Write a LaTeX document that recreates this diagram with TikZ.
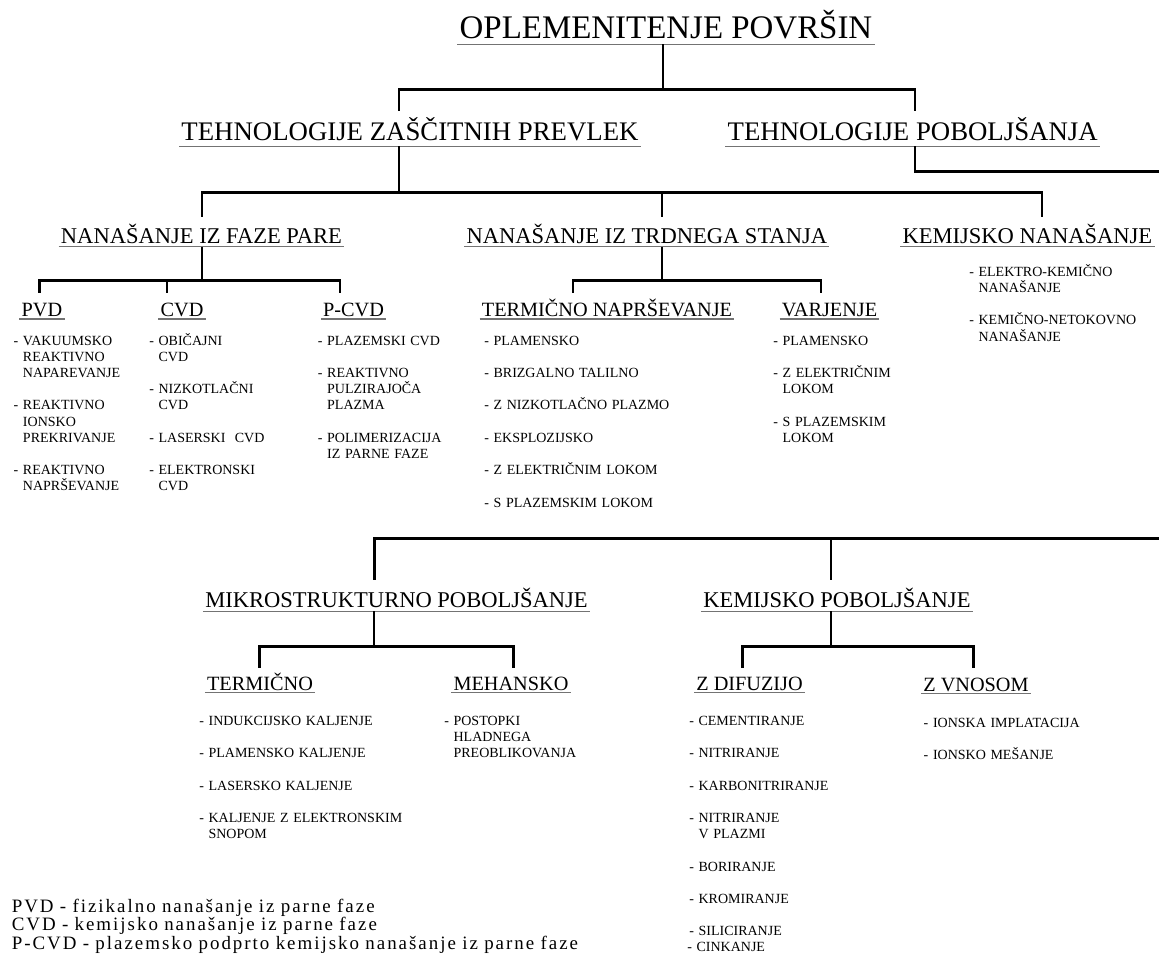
\documentclass[tikz,border=0pt]{standalone}
\usepackage{fontspec}
\setmainfont{Liberation Serif}
\newfontfamily\notefont[LetterSpace=10.5,WordSpace=1.4]{Liberation Serif}
\newcommand{\ind}{\hphantom{-\ }}

\begin{document}
\begin{tikzpicture}[x=0.75pt,y=0.75pt,yscale=-1,xscale=1,
  uline/.style={draw=black!55,line width=0.8pt},
  ul/.style={append after command={(\tikzlastnode.south west) edge[uline] (\tikzlastnode.south east)}},
  head/.style={anchor=base,inner xsep=1.5pt,text depth=0pt,ul},
  lvla/.style={head,inner ysep=4.3pt,font=\fontsize{24.7pt}{28pt}\selectfont},
  lvlb/.style={head,inner ysep=4.5pt,font=\fontsize{20.1pt}{24pt}\selectfont},
  lvlc/.style={head,inner ysep=2.6pt,font=\fontsize{16.9pt}{20pt}\selectfont},
  lvld/.style={head,inner ysep=1.6pt,font=\fontsize{15.2pt}{18pt}\selectfont},
  items/.style={anchor=base west,inner sep=0pt,text width=6cm,align=left,font=\fontsize{10.5pt}{12.15pt}\selectfont},
  note/.style={anchor=base west,inner sep=0pt,text width=20cm,align=left,font=\notefont\fontsize{14.2pt}{12.3pt}\selectfont},
  bar/.style={line width=2.2pt,line join=miter,line cap=rect},
  stem/.style={line width=1.6pt}
]
\useasboundingbox (0,0) rectangle (1159,967);

% Text Node
\node[lvla] (title) at (666,38.3) {OPLEMENITENJE POVRŠIN};
% Text Node
\node[lvlb] (tzp) at (410,140) {TEHNOLOGIJE ZAŠČITNIH PREVLEK};
\node[lvlb] (tp) at (912.7,140) {TEHNOLOGIJE POBOLJŠANJA};
% Text Node
\node[lvlc] (nifp) at (201.5,243) {NANAŠANJE IZ FAZE PARE};
\node[lvlc] (nits) at (646.8,243) {NANAŠANJE IZ TRDNEGA STANJA};
\node[lvlc] (kn) at (1027.4,243) {KEMIJSKO NANAŠANJE};
% Text Node
\node[lvld] (pvd) at (42,316.6) {PVD};
\node[lvld] (cvd) at (182,316.6) {CVD};
\node[lvld] (pcvd) at (353.5,316.6) {P-CVD};
\node[lvld] (tn) at (607,316.6) {TERMIČNO NAPRŠEVANJE};
\node[lvld] (varj) at (829.5,316.6) {VARJENJE};
% Text Node
\node[lvlc] (mp) at (396.5,607.4) {MIKROSTRUKTURNO POBOLJŠANJE};
\node[lvlc] (kp) at (836.9,607.4) {KEMIJSKO POBOLJŠANJE};
% Text Node
\node[lvld] (ter) at (260,690) {TERMIČNO};
\node[lvld] (meh) at (511,690) {MEHANSKO};
\node[lvld] (zdif) at (749.5,690) {Z DIFUZIJO};
\node[lvld] (zvn) at (976,691.5) {Z VNOSOM};

% Text Node
\node[items] (it-pvd) at (13.4,345.1) {- VAKUUMSKO\\ \ind REAKTIVNO\\ \ind NAPAREVANJE\\[12.15pt]
  - REAKTIVNO\\ \ind IONSKO\\ \ind PREKRIVANJE\\[12.15pt]
  - REAKTIVNO\\ \ind NAPRŠEVANJE};
\node[items] (it-cvd) at (149,345.1) {- OBIČAJNI\\ \ind CVD\\[12.15pt]
  - NIZKOTLAČNI\\ \ind CVD\\[12.15pt]
  - LASERSKI~~CVD\\[12.15pt]
  - ELEKTRONSKI\\ \ind CVD};
\node[items] (it-pcvd) at (317.6,345.1) {- PLAZEMSKI CVD\\[12.15pt]
  - REAKTIVNO\\ \ind PULZIRAJOČA\\ \ind PLAZMA\\[12.15pt]
  - POLIMERIZACIJA\\ \ind IZ PARNE FAZE};
\node[items] (it-tn) at (484,345.1) {- PLAMENSKO\\[12.15pt]
  - BRIZGALNO TALILNO\\[12.15pt]
  - Z NIZKOTLAČNO PLAZMO\\[12.15pt]
  - EKSPLOZIJSKO\\[12.15pt]
  - Z ELEKTRIČNIM LOKOM\\[12.15pt]
  - S PLAZEMSKIM LOKOM};
\node[items] (it-varj) at (773,345.1) {- PLAMENSKO\\[12.15pt]
  - Z ELEKTRIČNIM\\ \ind LOKOM\\[12.15pt]
  - S PLAZEMSKIM\\ \ind LOKOM};
\node[items] (it-kn) at (969,276.3) {- ELEKTRO-KEMIČNO\\ \ind NANAŠANJE\\[12.15pt]
  - KEMIČNO-NETOKOVNO\\ \ind NANAŠANJE};
% Text Node
\node[items] (it-ter) at (199,725.3) {- INDUKCIJSKO KALJENJE\\[12.15pt]
  - PLAMENSKO KALJENJE\\[12.15pt]
  - LASERSKO KALJENJE\\[12.15pt]
  - KALJENJE Z ELEKTRONSKIM\\ \ind SNOPOM};
\node[items] (it-meh) at (444,725.3) {- POSTOPKI\\ \ind HLADNEGA\\ \ind PREOBLIKOVANJA};
\node[items] (it-zdif) at (689,725.3) {- CEMENTIRANJE\\[12.15pt]
  - NITRIRANJE\\[12.15pt]
  - KARBONITRIRANJE\\[12.15pt]
  - NITRIRANJE\\ \ind V PLAZMI\\[12.15pt]
  - BORIRANJE\\[12.15pt]
  - KROMIRANJE\\[12.15pt]
  - SILICIRANJE};
\node[items] (it-cink) at (687,951.3) {- CINKANJE};
\node[items] (it-zvn) at (923.4,727) {- IONSKA IMPLATACIJA\\[12.15pt]
  - IONSKO MEŠANJE};

% Text Node
\node[note] (legend) at (11.5,912) {PVD - fizikalno nanašanje iz parne faze\\
  CVD - kemijsko nanašanje iz parne faze\\
  P-CVD - plazemsko podprto kemijsko nanašanje iz parne faze};

% Junctions
\coordinate (j-top) at (663,89.3);
\coordinate (d-tzp) at (399,110);
\coordinate (d-tp) at (915,110);
\coordinate (j-tzp) at (399,192.7);
\coordinate (d-nifp) at (202,216);
\coordinate (d-nits) at (662,216);
\coordinate (d-kn) at (1042,216);
\coordinate (j-tp) at (915,171.7);
\coordinate (e-a) at (1166,171.7);
\coordinate (e-b) at (1166,538.3);
\coordinate (d-mp) at (374.3,578.3);
\coordinate (d-kp) at (831,578.3);
\coordinate (j-nifp) at (202,280.7);
\coordinate (d-pvd) at (39.4,291.7);
\coordinate (d-cvd) at (167,291.7);
\coordinate (d-pcvd) at (340,291.7);
\coordinate (j-nits) at (662,280.7);
\coordinate (d-tn) at (573,291.7);
\coordinate (d-varj) at (821,291.7);
\coordinate (j-mp) at (374.3,646.7);
\coordinate (d-ter) at (259.5,666.7);
\coordinate (d-meh) at (513.6,666.7);
\coordinate (j-kp) at (831,646.7);
\coordinate (d-zdif) at (742.5,666.7);
\coordinate (d-zvn) at (973.3,666.7);

%Straight Lines
\draw[stem] (j-top |- title.south) -- (j-top);
\draw[bar] (d-tzp) |- (j-top) -| (d-tp);
%Straight Lines
\draw[stem] (j-tzp |- tzp.south) -- (j-tzp);
\draw[bar] (d-nifp) |- (j-tzp) -| (d-kn);
\draw[bar] (d-nits |- j-tzp) -- (d-nits);
%Straight Lines
\draw[stem] (j-tp |- tp.south) -- (j-tp);
\draw[bar] (j-tp) -- (e-a) -- (e-b) -| (d-mp);
\draw[bar] (d-kp |- e-b) -- (d-kp);
%Straight Lines
\draw[stem] (j-nifp |- nifp.south) -- (j-nifp);
\draw[bar] (d-pvd) |- (j-nifp) -| (d-pcvd);
\draw[bar] (d-cvd |- j-nifp) -- (d-cvd);
%Straight Lines
\draw[stem] (j-nits |- nits.south) -- (j-nits);
\draw[bar] (d-tn) |- (j-nits) -| (d-varj);
%Straight Lines
\draw[stem] (j-mp |- mp.south) -- (j-mp);
\draw[bar] (d-ter) |- (j-mp) -| (d-meh);
%Straight Lines
\draw[stem] (j-kp |- kp.south) -- (j-kp);
\draw[bar] (d-zdif) |- (j-kp) -| (d-zvn);

\end{tikzpicture}
\end{document}
